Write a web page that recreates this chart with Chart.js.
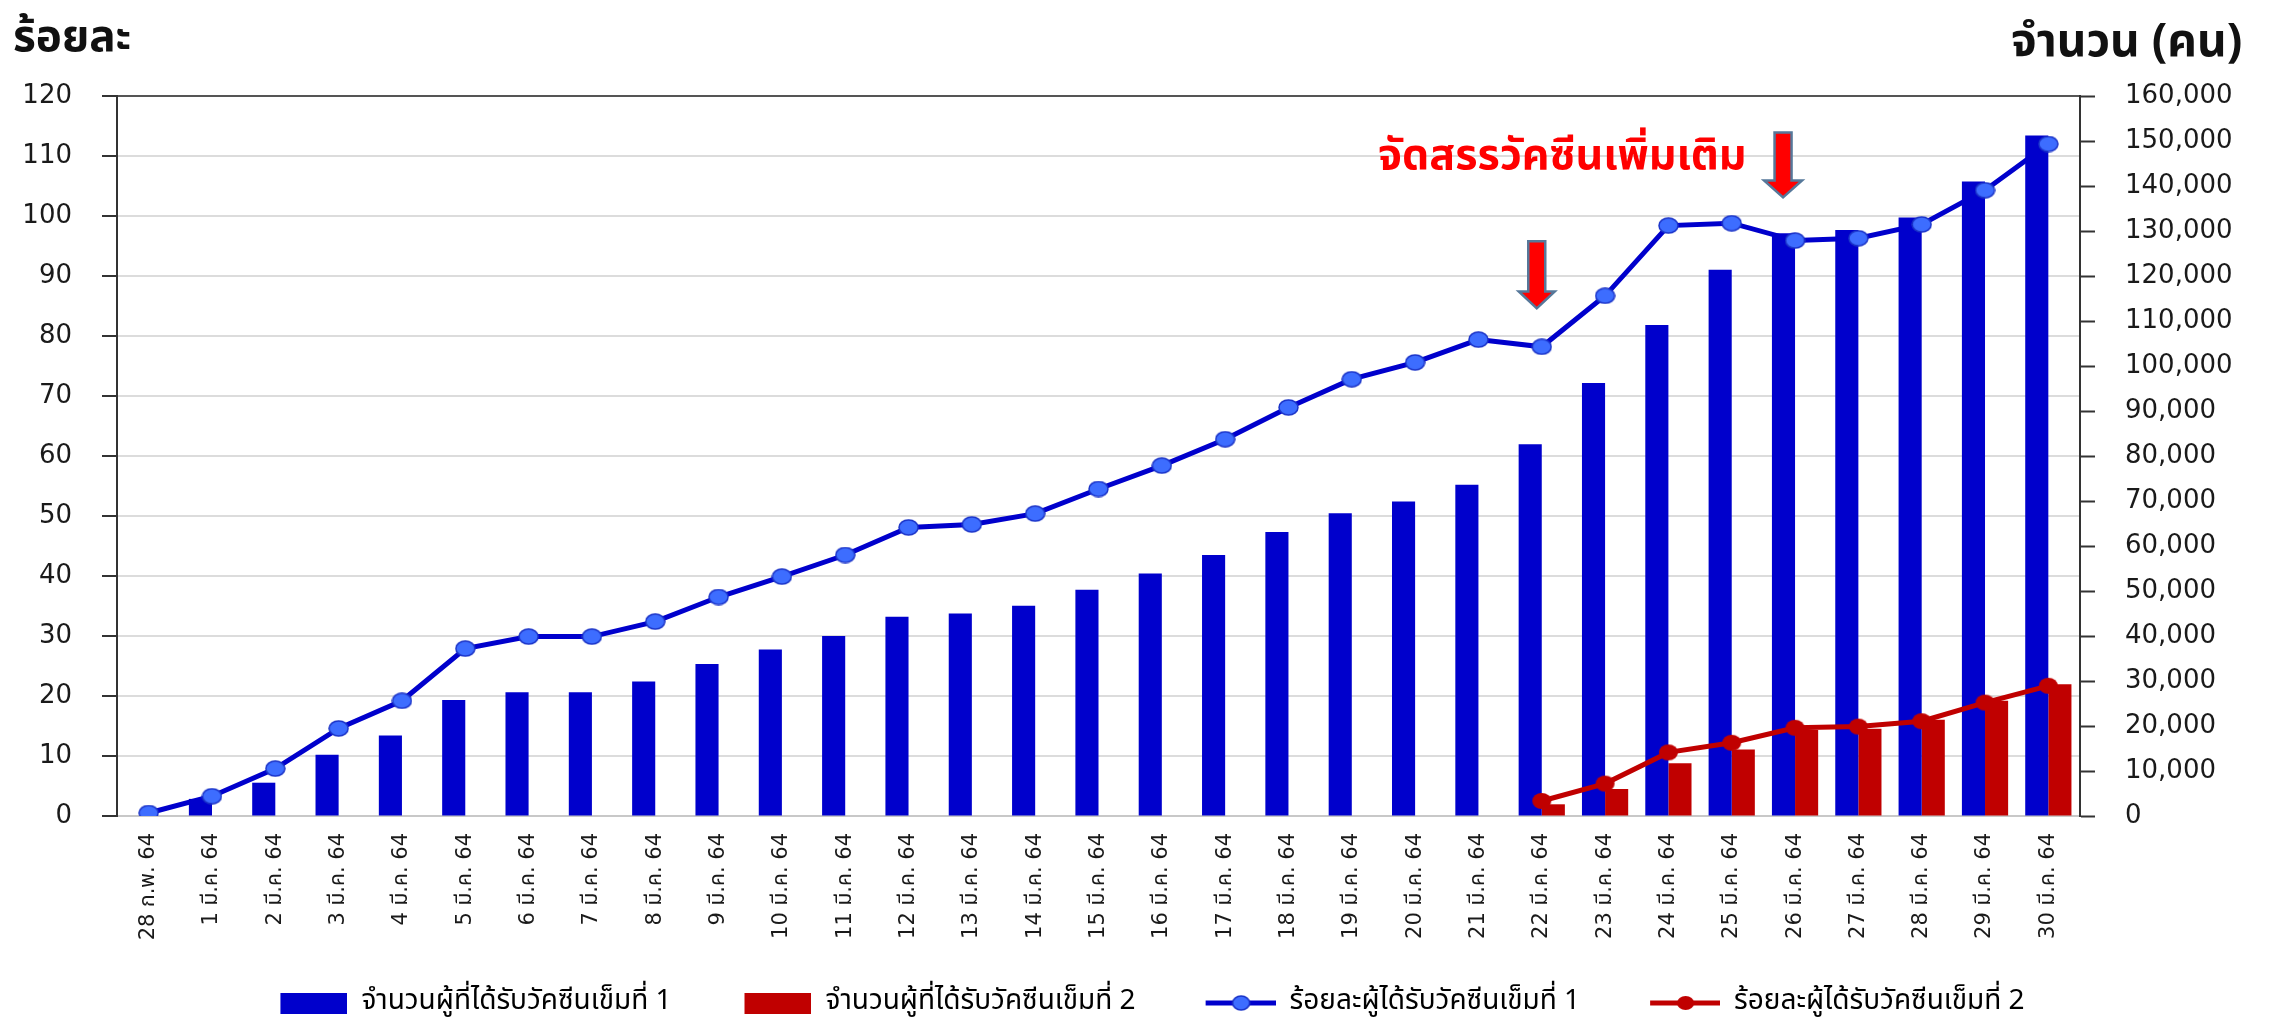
<!DOCTYPE html>
<html>
<head>
<meta charset="utf-8">
<script src="https://cdn.jsdelivr.net/npm/chart.js@4.4.1/dist/chart.umd.min.js"></script>
<style>
  body { margin: 0; background: #fff; }
  #wrap { position: relative; width: 2270px; height: 1021px; }
  #chart { display: block; }
  .ttl {
    position: absolute;
    font-family: 'Noto Sans Thai', 'Noto Sans', sans-serif;
    font-weight: bold;
    color: #111;
    white-space: nowrap;
    line-height: 1;
  }
</style>
</head>
<body>
<div id="wrap">
  <canvas id="chart"></canvas>
  <div class="ttl" style="left:13px; top:16px; font-size:44px;">ร้อยละ</div>
  <div class="ttl" style="left:2011px; top:19px; font-size:46px;">จำนวน (คน)</div>
  <div class="ttl" style="left:1378px; top:134px; font-size:43px; color:#ff0000;">จัดสรรวัคซีนเพิ่มเติม</div>
</div>
<script>
var labels = ['28 ก.พ. 64', '1 มี.ค. 64', '2 มี.ค. 64', '3 มี.ค. 64', '4 มี.ค. 64', '5 มี.ค. 64',
    '6 มี.ค. 64', '7 มี.ค. 64', '8 มี.ค. 64', '9 มี.ค. 64', '10 มี.ค. 64', '11 มี.ค. 64',
    '12 มี.ค. 64', '13 มี.ค. 64', '14 มี.ค. 64', '15 มี.ค. 64', '16 มี.ค. 64', '17 มี.ค. 64',
    '18 มี.ค. 64', '19 มี.ค. 64', '20 มี.ค. 64', '21 มี.ค. 64', '22 มี.ค. 64', '23 มี.ค. 64',
    '24 มี.ค. 64', '25 มี.ค. 64', '26 มี.ค. 64', '27 มี.ค. 64', '28 มี.ค. 64', '29 มี.ค. 64',
    '30 มี.ค. 64'];

// people vaccinated (right axis)
var dose1Count = [null, 3800, 7400, 13600, 17900, 25800, 27500, 27500, 29900, 33800, 37000,
    40000, 44300, 45000, 46700, 50300, 53900, 58000, 63100, 67300, 69900, 73600, 82600,
    96200, 109100, 121400, 129500, 130200, 133000, 141000, 151200];
var dose2Count = [null, null, null, null, null, null, null, null, null, null, null, null,
    null, null, null, null, null, null, null, null, null, null, 2600, 6000, 11700, 14800,
    19100, 19400, 21400, 25600, 29300];

// percent (left axis)
var dose1Pct = [0.5, 3.3, 7.9, 14.6, 19.2, 27.9, 29.9, 29.9, 32.4, 36.5, 39.9, 43.5, 48.1,
    48.6, 50.4, 54.5, 58.4, 62.8, 68.1, 72.8, 75.6, 79.4, 78.2, 86.7, 98.4, 98.8, 95.9,
    96.3, 98.6, 104.3, 112.0];
var dose2Pct = [null, null, null, null, null, null, null, null, null, null, null, null,
    null, null, null, null, null, null, null, null, null, null, 2.5, 5.4, 10.6, 12.2, 14.7,
    14.9, 15.8, 18.9, 21.7];

var leftTicks = { min: 0, max: 120, step: 10 };
var rightTicks = { min: 0, max: 160000, step: 10000 };

// the two red arrows (category index, shift in px, top and tip on the left axis)
var arrows = [
    { index: 22, dx: -5, top: 95.8, tip: 84.6, headW: 36 },
    { index: 26, dx: -12, top: 113.9, tip: 103.1, headW: 38 }
];

var BLUE = '#0000cc';
var RED = '#c00000';
var thaiFont = "'Noto Sans Thai', 'Noto Sans', sans-serif";
var tickFont = "'DejaVu Sans', 'Noto Sans Thai', sans-serif";

function ellipseImg(w, h, fill, stroke) {
    var c = document.createElement('canvas');
    c.width = w + 2;
    c.height = h + 2;
    var g = c.getContext('2d');
    g.beginPath();
    g.ellipse(c.width / 2, c.height / 2, w / 2, h / 2, 0, 0, Math.PI * 2);
    g.fillStyle = fill;
    g.fill();
    if (stroke) {
        g.lineWidth = 1.5;
        g.strokeStyle = stroke;
        g.stroke();
    }
    return c;
}

// legend icons are 102 wide, the mark sits at the right end (extra space before each item)
function legendBox(color) {
    var c = document.createElement('canvas');
    c.width = 102;
    c.height = 21;
    var g = c.getContext('2d');
    g.fillStyle = color;
    g.fillRect(35, 0, 67, 21);
    return c;
}

function legendLine(color, fill, stroke) {
    var c = document.createElement('canvas');
    c.width = 102;
    c.height = 18;
    var g = c.getContext('2d');
    g.strokeStyle = color;
    g.lineWidth = 5;
    g.beginPath();
    g.moveTo(32, 9);
    g.lineTo(102, 9);
    g.stroke();
    g.drawImage(ellipseImg(17, 14, fill, stroke), 58, 1);
    return c;
}

var blueDot = ellipseImg(19, 15, '#3d6dff', '#1a33c8');
var redDot = ellipseImg(19, 16, RED, null);
var legendIcons = [legendBox(BLUE), legendBox(RED), legendLine(BLUE, '#3d6dff', '#1a33c8'), legendLine(RED, RED, null)];

var arrowPlugin = {
    id: 'arrows',
    afterDatasetsDraw: function (chart) {
        var ctx = chart.ctx;
        var x = chart.scales.x;
        var y = chart.scales.y;
        arrows.forEach(function (a) {
            var cx = x.getPixelForValue(a.index) + a.dx;
            var top = y.getPixelForValue(a.top);
            var tip = y.getPixelForValue(a.tip);
            var headH = 17, shaftW = 17;
            ctx.save();
            ctx.beginPath();
            ctx.moveTo(cx - shaftW / 2, top);
            ctx.lineTo(cx + shaftW / 2, top);
            ctx.lineTo(cx + shaftW / 2, tip - headH);
            ctx.lineTo(cx + a.headW / 2, tip - headH);
            ctx.lineTo(cx, tip);
            ctx.lineTo(cx - a.headW / 2, tip - headH);
            ctx.lineTo(cx - shaftW / 2, tip - headH);
            ctx.closePath();
            ctx.fillStyle = '#ff0000';
            ctx.fill();
            ctx.lineWidth = 2.5;
            ctx.strokeStyle = '#56789a';
            ctx.stroke();
            ctx.restore();
        });
    }
};

var ctx = document.getElementById('chart');
var chart = new Chart(ctx, {
    data: {
        labels: labels,
        datasets: [
            {
                type: 'bar',
                label: 'จำนวนผู้ที่ได้รับวัคซีนเข็มที่ 1',
                data: dose1Count,
                backgroundColor: BLUE,
                yAxisID: 'y1',
                order: 2,
                barPercentage: 1,
                categoryPercentage: 0.73
            },
            {
                type: 'bar',
                label: 'จำนวนผู้ที่ได้รับวัคซีนเข็มที่ 2',
                data: dose2Count,
                backgroundColor: RED,
                yAxisID: 'y1',
                order: 2,
                barPercentage: 1,
                categoryPercentage: 0.73
            },
            {
                type: 'line',
                label: 'ร้อยละผู้ได้รับวัคซีนเข็มที่ 1',
                data: dose1Pct,
                borderColor: BLUE,
                borderWidth: 5,
                pointStyle: blueDot,
                yAxisID: 'y',
                order: 1
            },
            {
                type: 'line',
                label: 'ร้อยละผู้ได้รับวัคซีนเข็มที่ 2',
                data: dose2Pct,
                borderColor: RED,
                borderWidth: 5,
                pointStyle: redDot,
                yAxisID: 'y',
                order: 0
            }
        ]
    },
    options: {
        responsive: true,
        maintainAspectRatio: false,
        animation: false,
        layout: {
            padding: { top: 96, left: 0, right: 0, bottom: -6 }
        },
        plugins: {
            tooltip: { enabled: false },
            legend: {
                position: 'bottom',
                labels: {
                    usePointStyle: true,
                    pointStyleWidth: 102,
                    padding: 38,
                    color: '#333',
                    font: { family: thaiFont, size: 28 },
                    generateLabels: function (chart) {
                        return chart.data.datasets.map(function (ds, i) {
                            return {
                                text: ds.label,
                                pointStyle: legendIcons[i],
                                datasetIndex: i,
                                fillStyle: 'transparent',
                                strokeStyle: 'transparent',
                                lineWidth: 0,
                                hidden: false
                            };
                        });
                    }
                }
            }
        },
        scales: {
            x: {
                grid: { display: false, drawTicks: false },
                border: { display: true, color: '#c8c8c8', width: 2 },
                ticks: {
                    minRotation: 90,
                    maxRotation: 90,
                    autoSkip: false,
                    padding: 17,
                    color: '#1a1a1a',
                    font: { family: tickFont, size: 21 }
                },
                afterFit: function (scale) { scale.height = 135; }
            },
            y: {
                position: 'left',
                min: leftTicks.min,
                max: leftTicks.max,
                ticks: {
                    stepSize: leftTicks.step,
                    padding: 30,
                    color: '#1a1a1a',
                    font: { family: tickFont, size: 26 }
                },
                grid: {
                    color: function (c) { return c.tick && c.tick.value === leftTicks.max ? '#555' : '#dcdcdc'; },
                    lineWidth: 2,
                    tickLength: 15,
                    tickColor: '#333',
                    tickWidth: 2
                },
                border: { display: true, color: '#333', width: 2 },
                afterFit: function (scale) { scale.width = 117; }
            },
            y1: {
                position: 'right',
                min: rightTicks.min,
                max: rightTicks.max,
                ticks: {
                    stepSize: rightTicks.step,
                    padding: 30,
                    color: '#1a1a1a',
                    font: { family: tickFont, size: 26 },
                    callback: function (v) { return v.toLocaleString('en-US'); }
                },
                grid: {
                    drawOnChartArea: false,
                    tickLength: 15,
                    tickColor: '#333',
                    tickWidth: 2
                },
                border: { display: true, color: '#333', width: 2 },
                afterFit: function (scale) { scale.width = 190; }
            }
        }
    },
    plugins: [arrowPlugin]
});
</script>
</body>
</html>
